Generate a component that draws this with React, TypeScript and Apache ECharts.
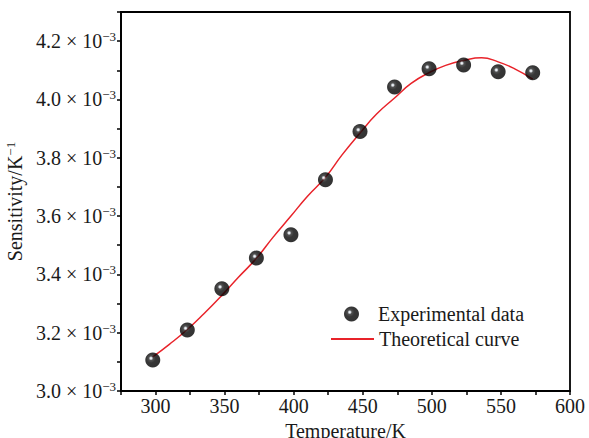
import React, { useEffect, useRef } from "react";
import * as echarts from "echarts";

const temps = [298, 323, 348, 373, 398, 423, 448, 473, 498, 523, 548, 573];
const sensitivity = [3.106, 3.209, 3.351, 3.456, 3.536, 3.725, 3.89, 4.043, 4.105, 4.118, 4.095, 4.092];
const curveTemps = [298, 310, 323, 335, 348, 360, 373, 385, 398, 410, 423, 435, 448, 460, 473, 485, 498, 510, 523, 536, 548, 560, 573];
const curveValues = [3.117, 3.16, 3.211, 3.265, 3.328, 3.39, 3.455, 3.527, 3.6, 3.668, 3.733, 3.81, 3.885, 3.95, 4.005, 4.055, 4.092, 4.117, 4.134, 4.143, 4.129, 4.105, 4.07];
const xTickLabels = [300, 350, 400, 450, 500, 550, 600];
const yTickLabels = [3.0, 3.2, 3.4, 3.6, 3.8, 4.0, 4.2];

const FONT = "Liberation Serif";
const TXT = "#1a1a1a";

export default function App() {
  const ref = useRef<HTMLDivElement>(null);
  useEffect(() => {
    if (!ref.current) return;
    const chart = echarts.init(ref.current, undefined, { renderer: "svg" });
    const sphere = new echarts.graphic.RadialGradient(0.38, 0.38, 0.62, [
      { offset: 0, color: "#ffffff" },
      { offset: 0.1, color: "#cfd6de" },
      { offset: 0.24, color: "#262626" },
      { offset: 0.5, color: "#050505" },
      { offset: 1, color: "#000000" },
    ]);
    chart.setOption({
      animation: false,
      backgroundColor: "#ffffff",
      grid: {
        left: 121,
        top: 12,
        right: 19,
        bottom: 47,
        outerBoundsMode: "none",
        containLabel: false,
        show: true,
        borderColor: "#000",
        borderWidth: 1.8,
      },
      legend: [
        {
          data: ["Experimental data"],
          left: 344,
          top: 304,
          padding: 0,
          itemWidth: 15,
          itemHeight: 15,
          textStyle: { fontFamily: FONT, fontSize: 20, color: TXT, padding: [0, 0, 0, 14] },
        },
        {
          data: ["Theoretical curve"],
          left: 330,
          top: 329,
          padding: 0,
          itemWidth: 43,
          itemHeight: 2,
          textStyle: { fontFamily: FONT, fontSize: 20, color: TXT },
        },
      ],
      xAxis: {
        type: "value",
        min: 275,
        max: 600,
        interval: 25,
        name: "Temperature/K",
        nameLocation: "middle",
        nameGap: 27,
        nameTextStyle: { fontFamily: FONT, fontSize: 20, color: TXT },
        axisLine: { lineStyle: { color: "#000", width: 1.8 } },
        axisTick: { show: true, length: 4, lineStyle: { color: "#000", width: 1.5 } },
        axisLabel: {
          fontFamily: FONT,
          fontSize: 20,
          color: TXT,
          margin: 5,
          formatter: (v: number) => (xTickLabels.includes(Math.round(v)) ? String(Math.round(v)) : ""),
        },
        splitLine: { show: false },
      },
      yAxis: {
        type: "value",
        min: 3.0,
        max: 4.3,
        interval: 0.1,
        name: "{b|Sensitivity/K}{s|−1}",
        nameLocation: "middle",
        nameGap: 90,
        nameTextStyle: {
          rich: {
            b: { fontFamily: FONT, fontSize: 20, color: TXT, lineHeight: 22 },
            s: { fontFamily: FONT, fontSize: 13, color: TXT, verticalAlign: "top", lineHeight: 13 },
          },
        },
        axisLine: { lineStyle: { color: "#000", width: 1.8 } },
        axisTick: { show: true, length: 4, lineStyle: { color: "#000", width: 1.5 } },
        axisLabel: {
          margin: 5,
          formatter: (v: number) => {
            const r = Math.round(v * 10) / 10;
            if (!yTickLabels.some((t) => Math.abs(t - r) < 1e-6)) return "";
            return `{b|${r.toFixed(1)} × 10}{s|−3}`;
          },
          rich: {
            b: { fontFamily: FONT, fontSize: 20, color: TXT, lineHeight: 22 },
            s: { fontFamily: FONT, fontSize: 13, color: TXT, verticalAlign: "top", lineHeight: 13 },
          },
        },
        splitLine: { show: false },
      },
      series: [
        {
          name: "Experimental data",
          type: "scatter",
          symbol: "circle",
          symbolSize: 15,
          itemStyle: { color: sphere },
          data: temps.map((t, i) => [t, sensitivity[i]]),
          z: 3,
        },
        {
          name: "Theoretical curve",
          type: "line",
          symbol: "none",
          smooth: 0.5,
          lineStyle: { color: "#e8232a", width: 1.5 },
          itemStyle: { color: "#e8232a" },
          data: curveTemps.map((t, i) => [t, curveValues[i]]),
          z: 2,
        },
      ],
    });
    return () => chart.dispose();
  }, []);
  return <div ref={ref} style={{ width: 589, height: 438, position: "absolute", left: 0, top: 0 }} />;
}
